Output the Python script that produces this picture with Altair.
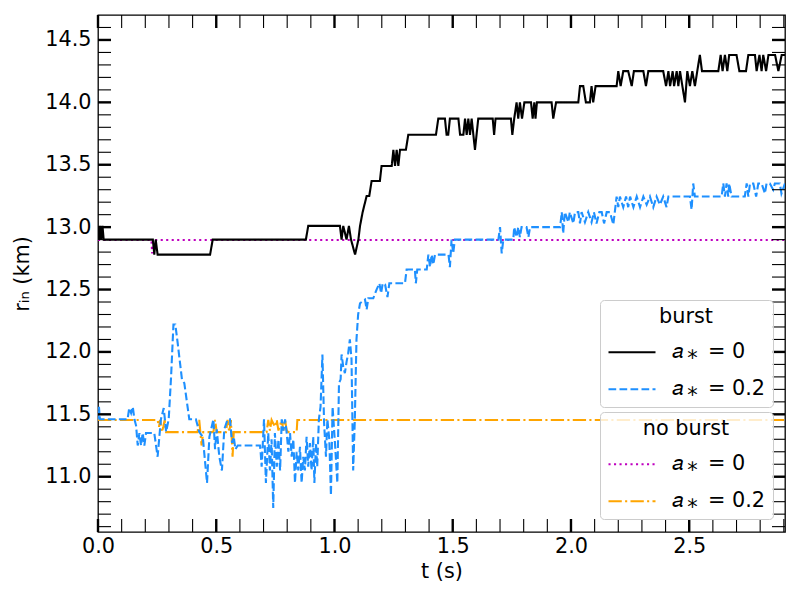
import altair as alt
import pandas as pd

# ---------------- data ----------------
black_t = [0.000, 0.005, 0.009, 0.014, 0.019, 0.024, 0.232, 0.238, 0.244, 0.252, 0.474, 0.485,
           0.879, 0.889, 1.023, 1.030, 1.037, 1.051, 1.061, 1.070, 1.087, 1.101, 1.108, 1.119,
           1.136, 1.147, 1.157, 1.192, 1.199, 1.242, 1.249, 1.256, 1.263, 1.270, 1.277, 1.302,
           1.312, 1.429, 1.439, 1.467, 1.474, 1.481, 1.488, 1.524, 1.531, 1.545, 1.552, 1.559,
           1.566, 1.573, 1.580, 1.594, 1.608, 1.669, 1.675, 1.681, 1.746, 1.752, 1.760, 1.770,
           1.777, 1.784, 1.793, 1.803, 1.831, 1.838, 1.845, 1.850, 1.856, 1.918, 1.925, 1.937,
           2.031, 2.038, 2.052, 2.063, 2.080, 2.087, 2.094, 2.104, 2.193, 2.200, 2.210, 2.221,
           2.242, 2.257, 2.266, 2.306, 2.317, 2.327, 2.390, 2.402, 2.412, 2.419, 2.430, 2.436,
           2.447, 2.454, 2.461, 2.482, 2.492, 2.503, 2.513, 2.524, 2.534, 2.545, 2.554, 2.623,
           2.633, 2.641, 2.651, 2.661, 2.669, 2.700, 2.712, 2.740, 2.750, 2.778, 2.785, 2.797,
           2.806, 2.813, 2.825, 2.835, 2.863, 2.877, 2.891, 2.905]
black_r = [13.01, 12.90, 13.01, 12.90, 13.01, 12.90, 12.90, 12.78, 12.90, 12.78, 12.78, 12.90,
           12.90, 13.01, 13.01, 12.90, 13.01, 12.90, 13.01, 12.90, 12.78, 12.90, 13.01, 13.12,
           13.25, 13.25, 13.37, 13.37, 13.49, 13.49, 13.62, 13.49, 13.62, 13.49, 13.62, 13.62,
           13.74, 13.74, 13.87, 13.87, 13.74, 13.74, 13.87, 13.87, 13.74, 13.74, 13.87, 13.74,
           13.87, 13.74, 13.87, 13.62, 13.87, 13.87, 13.74, 13.87, 13.87, 13.74, 13.87, 14.00,
           13.87, 14.00, 13.87, 14.00, 14.00, 13.87, 14.00, 13.87, 14.00, 14.00, 13.87, 14.00,
           14.00, 14.13, 14.13, 14.00, 14.00, 14.13, 14.00, 14.13, 14.13, 14.25, 14.13, 14.25,
           14.25, 14.13, 14.25, 14.25, 14.13, 14.25, 14.25, 14.13, 14.25, 14.13, 14.25, 14.13,
           14.25, 14.13, 14.25, 14.00, 14.25, 14.13, 14.25, 14.13, 14.25, 14.38, 14.25, 14.25,
           14.38, 14.25, 14.38, 14.25, 14.38, 14.38, 14.25, 14.25, 14.38, 14.38, 14.25, 14.38,
           14.25, 14.38, 14.25, 14.38, 14.38, 14.25, 14.38, 14.38]

blue_t = [0.000, 0.004, 0.008, 0.125, 0.132, 0.140, 0.147, 0.154, 0.161, 0.168, 0.175, 0.182,
          0.189, 0.196, 0.203, 0.238, 0.252, 0.266, 0.278, 0.288, 0.299, 0.309, 0.319, 0.327,
          0.337, 0.355, 0.365, 0.386, 0.414, 0.428, 0.443, 0.461, 0.471, 0.488, 0.495, 0.502,
          0.513, 0.524, 0.534, 0.548, 0.558, 0.567, 0.574, 0.581, 0.591, 0.685, 0.688, 0.692,
          0.702, 0.710, 0.720, 0.727, 0.734, 0.741, 0.748, 0.756, 0.763, 0.770, 0.777, 0.784,
          0.791, 0.798, 0.805, 0.812, 0.819, 0.826, 0.833, 0.840, 0.847, 0.854, 0.861, 0.868,
          0.875, 0.882, 0.889, 0.896, 0.903, 0.910, 0.915, 0.922, 0.927, 0.934, 0.941, 0.949,
          0.956, 0.964, 0.970, 0.978, 0.985, 0.992, 1.002, 1.012, 1.019, 1.026, 1.030, 1.037,
          1.044, 1.051, 1.058, 1.065, 1.072, 1.079, 1.086, 1.093, 1.100, 1.108, 1.129, 1.136,
          1.143, 1.164, 1.178, 1.190, 1.197, 1.204, 1.214, 1.224, 1.232, 1.298, 1.305, 1.340,
          1.344, 1.350, 1.390, 1.397, 1.404, 1.411, 1.418, 1.425, 1.482, 1.488, 1.495, 1.502,
          1.509, 1.693, 1.700, 1.707, 1.714, 1.756, 1.760, 1.770, 1.777, 1.784, 1.791, 1.812,
          1.820, 1.827, 1.954, 1.961, 1.967, 1.974, 1.989, 1.995, 2.010, 2.017, 2.031, 2.038,
          2.045, 2.059, 2.073, 2.087, 2.097, 2.108, 2.120, 2.130, 2.140, 2.151, 2.165, 2.179,
          2.193, 2.200, 2.207, 2.221, 2.233, 2.242, 2.250, 2.264, 2.278, 2.292, 2.306, 2.320,
          2.334, 2.348, 2.362, 2.376, 2.390, 2.404, 2.412, 2.503, 2.510, 2.517, 2.524, 2.637,
          2.644, 2.651, 2.658, 2.665, 2.669, 2.679, 2.735, 2.743, 2.750, 2.757, 2.771, 2.783,
          2.792, 2.806, 2.820, 2.827, 2.841, 2.855, 2.862, 2.883, 2.890, 2.905]
blue_r = [11.46, 11.56, 11.46, 11.46, 11.55, 11.51, 11.56, 11.46, 11.41, 11.25, 11.35, 11.25,
          11.35, 11.25, 11.35, 11.35, 11.16, 11.46, 11.55, 11.36, 11.46, 11.80, 12.22, 12.22,
          12.07, 11.78, 11.75, 11.46, 11.46, 11.36, 11.32, 10.95, 11.32, 11.46, 11.22, 11.38,
          11.16, 11.05, 11.38, 11.46, 11.46, 11.27, 11.32, 11.22, 11.25, 11.25, 11.19, 11.08,
          11.46, 10.95, 11.35, 11.05, 11.30, 10.75, 11.35, 11.08, 11.30, 11.05, 11.46, 11.37,
          11.46, 11.35, 11.20, 11.35, 11.16, 11.30, 10.95, 11.20, 11.05, 11.24, 10.95, 11.16,
          11.05, 11.32, 11.08, 11.27, 11.05, 11.32, 10.95, 11.27, 11.08, 11.46, 11.56, 11.98,
          11.43, 11.16, 11.46, 11.30, 10.85, 11.56, 11.27, 10.95, 11.75, 11.78, 11.98, 11.88,
          11.83, 11.92, 11.99, 12.10, 11.94, 11.05, 11.46, 12.10, 12.30, 12.39, 12.42, 12.34,
          12.43, 12.43, 12.50, 12.55, 12.47, 12.55, 12.54, 12.44, 12.55, 12.55, 12.66, 12.66,
          12.55, 12.66, 12.66, 12.78, 12.68, 12.78, 12.70, 12.78, 12.78, 12.68, 12.90, 12.79,
          12.90, 12.90, 13.00, 12.79, 12.90, 12.90, 13.00, 12.92, 13.00, 12.92, 13.00, 13.00,
          12.92, 13.00, 13.00, 13.12, 12.95, 13.12, 13.04, 13.12, 13.03, 13.12, 13.12, 13.03,
          13.12, 13.04, 13.12, 13.04, 13.12, 13.03, 13.12, 13.12, 13.03, 13.12, 13.12, 13.02,
          13.245, 13.16, 13.245, 13.16, 13.245, 13.16, 13.245, 13.16, 13.245, 13.16, 13.245, 13.18,
          13.245, 13.16, 13.245, 13.18, 13.245, 13.16, 13.245, 13.245, 13.14, 13.35, 13.245, 13.245,
          13.35, 13.245, 13.35, 13.245, 13.35, 13.245, 13.245, 13.35, 13.245, 13.35, 13.35, 13.245,
          13.35, 13.35, 13.27, 13.35, 13.35, 13.30, 13.35, 13.35, 13.27, 13.35]

magenta_t = [0.000, 0.226, 0.229, 0.232, 2.905]
magenta_r = [12.897, 12.897, 12.79, 12.897, 12.897]

orange_t = [0.000, 0.252, 0.258, 0.263, 0.270, 0.276, 0.282, 0.288, 0.421, 0.428, 0.438, 0.445,
            0.488, 0.495, 0.502, 0.541, 0.548, 0.555, 0.562, 0.569, 0.574, 0.713, 0.720, 0.727,
            0.734, 0.748, 0.756, 0.763, 0.777, 0.784, 0.791, 0.798, 0.805, 0.840, 0.843, 2.905]
orange_r = [11.455, 11.455, 11.40, 11.455, 11.357, 11.40, 11.455, 11.357, 11.357, 11.455, 11.25, 11.357,
            11.357, 11.455, 11.357, 11.357, 11.455, 11.357, 11.455, 11.16, 11.357, 11.357, 11.455, 11.37,
            11.455, 11.40, 11.455, 11.37, 11.455, 11.37, 11.455, 11.37, 11.357, 11.357, 11.455, 11.455]

series_labels = ["\U0001D44E\u2009\u204E\u2002=\u00a00", "\U0001D44E\u2009\u204E\u2002=\u00a00.2"]
burst_colors = ["#000000", "#1e90ff"]
noburst_colors = ["#bf00bf", "#ffa500"]

x_major = [0.0, 0.5, 1.0, 1.5, 2.0, 2.5]
x_minor = [0.1, 0.2, 0.3, 0.4, 0.6, 0.7, 0.8, 0.9, 1.1, 1.2, 1.3, 1.4, 1.6, 1.7, 1.8, 1.9,
           2.1, 2.2, 2.3, 2.4, 2.6, 2.7, 2.8, 2.9]
y_major = [11.0, 11.5, 12.0, 12.5, 13.0, 13.5, 14.0, 14.5]
y_minor = [10.6, 10.7, 10.8, 10.9, 11.1, 11.2, 11.3, 11.4, 11.6, 11.7, 11.8, 11.9, 12.1, 12.2,
           12.3, 12.4, 12.6, 12.7, 12.8, 12.9, 13.1, 13.2, 13.3, 13.4, 13.6, 13.7, 13.8, 13.9,
           14.1, 14.2, 14.3, 14.4, 14.6]

X_DOMAIN = [0.0, 2.905]
Y_DOMAIN = [10.557, 14.70]

# ---------------- build tables ----------------
def frame(ts, rs, name):
    return pd.DataFrame({"t": ts, "r": rs, "series": name, "i": list(range(len(ts)))})

burst_df = pd.concat([frame(black_t, black_r, series_labels[0]),
                      frame(blue_t, blue_r, series_labels[1])], ignore_index=True)
noburst_df = pd.concat([frame(magenta_t, magenta_r, series_labels[0]),
                        frame(orange_t, orange_r, series_labels[1])], ignore_index=True)

W, H = 687, 517
FONT = "DejaVu Sans"
FS = 20.8
TL = 13

xs = alt.Scale(domain=X_DOMAIN, nice=False, zero=False)
ys = alt.Scale(domain=Y_DOMAIN, nice=False, zero=False)

x_axis = alt.Axis(title="t (s)", values=x_major, format=".1f", ticks=False, domain=False, grid=False,
                  labelFont=FONT, labelFontSize=FS, labelColor="black", labelPadding=4,
                  titleFont=FONT, titleFontSize=FS, titleFontWeight="normal", titleColor="black",
                  titlePadding=6, labelFlush=False, labelOverlap=False)
y_axis = alt.Axis(title="r\u1d62\u2099 (km)", values=y_major, format=".1f", ticks=False, domain=False,
                  grid=False, labelFont=FONT, labelFontSize=FS, labelColor="black", labelPadding=7,
                  titleFont=FONT, titleFontSize=FS, titleFontWeight="normal", titleColor="black",
                  titlePadding=12, labelFlush=False, labelOverlap=False)


def legend(title, ly):
    return alt.Legend(title=title, orient="none", legendX=502, legendY=ly, direction="vertical",
                      padding=7, fillColor="rgba(255,255,255,0.8)", strokeColor="#cccccc",
                      cornerRadius=4, titleAnchor="middle", titleAlign="center",
                      titleFont=FONT, titleFontSize=FS, titleFontWeight="normal", titleColor="black",
                      titlePadding=13, labelFont=FONT, labelFontSize=FS, labelColor="black",
                      symbolType="M-1,0H3.7", symbolSize=400, symbolStrokeWidth=2.1,
                      labelOffset=42, rowPadding=15, labelLimit=300)


nb_leg = legend("no burst", 397)
b_leg = legend("burst", 285)

noburst = alt.Chart(noburst_df).mark_line(clip=True, strokeWidth=2.1).encode(
    x=alt.X("t:Q", scale=xs, axis=x_axis),
    y=alt.Y("r:Q", scale=ys, axis=y_axis),
    color=alt.Color("series:N", scale=alt.Scale(domain=series_labels, range=noburst_colors), legend=nb_leg),
    strokeDash=alt.StrokeDash("series:N", scale=alt.Scale(domain=series_labels,
                              range=[[2.1, 3.4], [13.3, 3.3, 2.1, 3.3]]), legend=nb_leg),
    order=alt.Order("i:Q"),
)

burst = alt.Chart(burst_df).mark_line(clip=True, strokeWidth=2.1).encode(
    x=alt.X("t:Q", scale=xs),
    y=alt.Y("r:Q", scale=ys),
    color=alt.Color("series:N", scale=alt.Scale(domain=series_labels, range=burst_colors), legend=b_leg),
    strokeDash=alt.StrokeDash("series:N", scale=alt.Scale(domain=series_labels,
                              range=[[1, 0], [7.7, 3.3]]), legend=b_leg),
    order=alt.Order("i:Q"),
)

xmaj_df = pd.DataFrame({"t": x_major})
xmin_df = pd.DataFrame({"t": x_minor})
ymaj_df = pd.DataFrame({"r": y_major})
ymin_df = pd.DataFrame({"r": y_minor})


def xticks(df, w, y0, y1):
    return alt.Chart(df).mark_rule(color="black", strokeWidth=w).encode(
        x=alt.X("t:Q", scale=xs), y=alt.value(y0), y2=alt.value(y1))


def yticks(df, w, x0, x1):
    return alt.Chart(df).mark_rule(color="black", strokeWidth=w).encode(
        y=alt.Y("r:Q", scale=ys), x=alt.value(x0), x2=alt.value(x1))


ticks = [
    xticks(xmin_df, 1.1, H, H - TL), xticks(xmin_df, 1.1, 0, TL),
    xticks(xmaj_df, 2.4, H, H - TL), xticks(xmaj_df, 2.4, 0, TL),
    yticks(ymin_df, 1.1, 0, TL), yticks(ymin_df, 1.1, W, W - TL),
    yticks(ymaj_df, 2.4, 0, TL), yticks(ymaj_df, 2.4, W, W - TL),
]

chart = alt.layer(noburst, burst, *ticks).resolve_scale(
    color="independent", strokeDash="independent"
).properties(
    width=W, height=H, autosize=alt.AutoSizeParams(type="none"),
    padding={"left": 90, "top": 7, "right": 7, "bottom": 60}, background="white"
).configure_view(stroke="black", strokeWidth=1.3)

chart.save("out.html", embed_options={"renderer": "svg", "actions": False})
